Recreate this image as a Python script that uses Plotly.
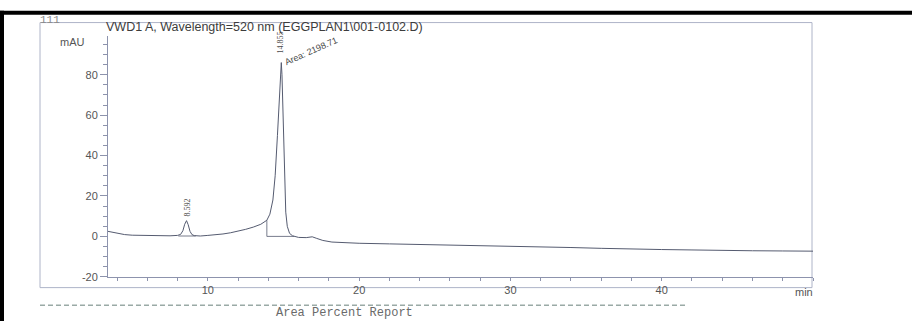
import plotly.graph_objects as go

W, H = 912, 327

# ---- data ----
time_min = [3.4, 3.6, 4.0, 4.5, 5.0, 5.5, 6.0, 6.5, 7.0, 7.5, 8.0, 8.2, 8.35, 8.47, 8.59, 8.7, 8.82, 8.95,
            9.1, 9.5, 10.0, 10.5, 11.0, 11.5, 12.0, 12.5, 13.0, 13.5, 13.9, 14.1, 14.3, 14.45, 14.6,
            14.72, 14.8, 14.855, 14.9, 14.98, 15.05, 15.15, 15.25, 15.4, 15.6, 16.0, 16.5, 16.9,
            17.2, 17.6, 18.2, 19.0, 20.0, 22.0, 24.0, 26.0, 28.0, 30.0, 32.0, 34.0, 36.0, 38.0,
            40.0, 42.0, 44.0, 46.0, 48.0, 50.0]
signal_mau = [2.5, 2.2, 1.5, 0.9, 0.6, 0.5, 0.4, 0.3, 0.2, 0.3, 0.5, 1.0, 2.8, 6.0, 7.8, 5.8, 2.5, 0.9,
              0.4, 0.2, 0.5, 0.7, 1.2, 1.8, 2.6, 3.5, 4.6, 6.0, 8.0, 11.0, 18.0, 30.0, 50.0,
              70.0, 82.0, 86.0, 80.0, 55.0, 30.0, 12.0, 5.0, 1.5, 0.3, -0.5, -0.6, -0.2,
              -1.0, -2.0, -2.8, -3.2, -3.4, -3.7, -4.0, -4.3, -4.4, -4.6, -5.0, -5.5, -5.9, -6.3,
              -6.5, -6.7, -7.0, -7.1, -7.2, -7.3]

peak_rt = [8.592, 14.83]
peak_rt_labels = ["8.592", "14.855"]
peak_label_y = [8.6, 89.5]
area_label = "Area: 2198.71"
area_label_pos = [16.85, 91.5]

base1_t = [8.05, 9.2]
base1_v = [0.2, 0.2]
base2_t = [13.9, 13.9, 15.7]
base2_v = [8.0, 0.0, 0.0]

x_range = [3.4, 50.0]
y_range = [-20.0, 99.0]
x_major = [10, 20, 30, 40]
y_major = [-20, 0, 20, 40, 60, 80]

title_text = "VWD1 A, Wavelength=520 nm (EGGPLAN1\\001-0102.D)"

# ---- layout helpers (pixel -> paper) ----
def px(x):
    return x / W

def py(y):
    return 1 - y / H

AX = "#8d93ad"
TRACE = "#555b70"
TXT = "#4a4a4a"
SANS = "Liberation Sans, Arial, sans-serif"
NARROW = "Liberation Sans Narrow, Liberation Serif, serif"

fig = go.Figure()
fig.add_trace(go.Scatter(x=time_min, y=signal_mau, mode="lines",
                         line=dict(color=TRACE, width=1), hoverinfo="skip", showlegend=False))
fig.add_trace(go.Scatter(x=base1_t, y=base1_v, mode="lines",
                         line=dict(color=TRACE, width=0.8), hoverinfo="skip", showlegend=False))
fig.add_trace(go.Scatter(x=base2_t, y=base2_v, mode="lines",
                         line=dict(color=TRACE, width=0.8), hoverinfo="skip", showlegend=False))

ann = []
for rt, lab, ly in zip(peak_rt, peak_rt_labels, peak_label_y):
    ann.append(dict(x=rt, y=ly, xref="x", yref="y", text=lab, showarrow=False, textangle=-90,
                    xanchor="center", yanchor="bottom",
                    font=dict(family=NARROW, size=8, color=TXT)))
ann.append(dict(x=area_label_pos[0], y=area_label_pos[1], xref="x", yref="y", text=area_label,
                showarrow=False, textangle=-24, xanchor="center", yanchor="middle",
                font=dict(family=SANS, size=9, color=TXT)))
ann.append(dict(x=px(104), y=py(27), xref="paper", yref="paper", text=title_text, showarrow=False,
                xanchor="left", yanchor="middle",
                font=dict(family=SANS, size=12.5, color="#3c3c3c")))
ann.append(dict(x=px(87), y=py(43), xref="paper", yref="paper", text="mAU", showarrow=False,
                xanchor="right", yanchor="middle",
                font=dict(family=SANS, size=11, color="#555555")))
ann.append(dict(x=px(815), y=py(297), xref="paper", yref="paper", text="min", showarrow=False,
                xanchor="right", yanchor="middle",
                font=dict(family=SANS, size=11, color="#555555")))
ann.append(dict(x=px(38), y=py(20), xref="paper", yref="paper", text="111", showarrow=False,
                xanchor="left", yanchor="middle",
                font=dict(family="Liberation Mono, DejaVu Sans Mono, monospace", size=11, color="#8a8a8a")))
ann.append(dict(x=px(274), y=py(328), xref="paper", yref="paper", text="Area Percent Report",
                showarrow=False, xanchor="left", yanchor="bottom",
                font=dict(family="Liberation Mono, DejaVu Sans Mono, monospace", size=12, color="#6a6a6a")))

shapes = [
    # outer frame
    dict(type="rect", xref="paper", yref="paper", x0=px(40), x1=px(812), y0=py(293), y1=py(23),
         line=dict(color="#aeb4c8", width=1), layer="below"),
    # scanner black edges
    dict(type="rect", xref="paper", yref="paper", x0=0, x1=1, y0=py(15), y1=py(11),
         line=dict(width=0), fillcolor="black", layer="below"),
    dict(type="rect", xref="paper", yref="paper", x0=0, x1=px(4), y0=0, y1=py(11),
         line=dict(width=0), fillcolor="black", layer="below"),
    # dashed separator
    dict(type="line", xref="paper", yref="paper", x0=px(40), x1=px(686), y0=py(311), y1=py(311),
         line=dict(color="#9aaaa6", width=1.5, dash="5px,3px")),
]

fig.update_layout(
    width=W, height=H, autosize=False,
    margin=dict(l=0, r=0, t=0, b=0),
    paper_bgcolor="white", plot_bgcolor="white",
    showlegend=False,
    annotations=ann, shapes=shapes,
    xaxis=dict(domain=[px(108), px(813)], range=x_range, showgrid=False, zeroline=False,
               showline=True, linecolor=AX, linewidth=1, ticks="outside", ticklen=3,
               tickcolor=AX, tickvals=x_major, ticktext=[str(v) for v in x_major],
               minor=dict(dtick=2, tick0=0, ticklen=3, tickcolor=AX, ticks="outside"),
               tickfont=dict(family=SANS, size=11, color="#555555")),
    yaxis=dict(domain=[py(282), py(37)], range=y_range, showgrid=False, zeroline=False,
               showline=True, linecolor=AX, linewidth=1, ticks="outside", ticklen=7,
               tickcolor=AX, tickvals=y_major, ticktext=[str(v) for v in y_major],
               minor=dict(dtick=5, tick0=0, ticklen=4, tickcolor=AX, ticks="outside"),
               tickfont=dict(family=SANS, size=11, color="#555555")),
)

fig.write_html("out.html")
